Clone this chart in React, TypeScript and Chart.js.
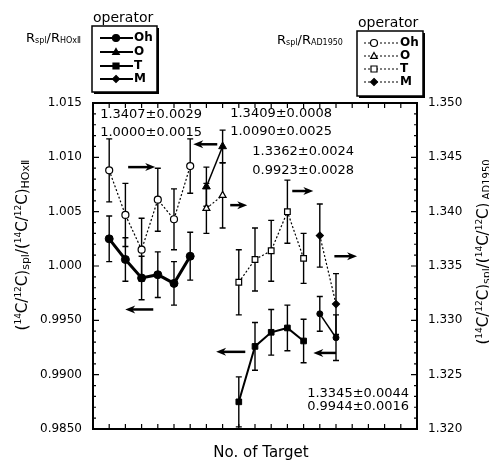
import React, { useEffect, useRef } from "react";
import { Chart, registerables } from "chart.js";
Chart.register(...registerables);

// ---------- data ----------
const ohX = [0, 1, 2, 3, 4, 5];
const oX = [6, 7];
const tX = [8, 9, 10, 11, 12];
const mX = [13, 14];

// R_spl / R_HOxII (left axis, solid lines)
const ohHox = [1.0025, 1.0006, 0.9989, 0.9992, 0.9984, 1.0009];
const ohHoxErr = [0.0021, 0.002, 0.002, 0.0021, 0.002, 0.0022];
const oHox = [1.0073, 1.011];
const oHoxErr = [0.0018, 0.0015];
const tHox = [0.9875, 0.9926, 0.9939, 0.9943, 0.9931];
const tHoxErr = [0.0023, 0.0022, 0.0021, 0.0021, 0.002];
const mHox = [0.9956, 0.9934];
const mHoxErr = [0.0016, 0.0021];

// R_spl / R_AD1950 (right axis, dotted lines)
const ohAd = [1.3438, 1.3397, 1.3365, 1.3411, 1.3393, 1.3442];
const ohAdErr = [0.0029, 0.0029, 0.0029, 0.0029, 0.0028, 0.0025];
const oAd = [1.3403, 1.3415];
const oAdErr = [0.0023, 0.003];
const tAd = [1.3335, 1.3356, 1.3364, 1.34, 1.3357];
const tAdErr = [0.003, 0.0029, 0.0028, 0.0029, 0.0023];
const mAd = [1.3378, 1.3315];
const mAdErr = [0.0029, 0.0028];

const leftTickValues = [1.015, 1.01, 1.005, 1.0, 0.995, 0.99, 0.985];
const leftTickLabels = ["1.015", "1.010", "1.005", "1.000", "0.9950", "0.9900", "0.9850"];
const rightTickValues = [1.35, 1.345, 1.34, 1.335, 1.33, 1.325, 1.32];
const rightTickLabels = ["1.350", "1.345", "1.340", "1.335", "1.330", "1.325", "1.320"];

// annotation texts (x index, left-axis value)
const noteTexts = [
  "1.3407±0.0029", "1.0000±0.0015",
  "1.3409±0.0008", "1.0090±0.0025",
  "1.3362±0.0024", "0.9923±0.0028",
  "1.3345±0.0044", "0.9944±0.0016",
];
const noteX = [-0.56, -0.56, 7.47, 7.47, 8.83, 8.83, 12.22, 12.22];
const noteY = [1.0139, 1.01224, 1.01399, 1.01233, 1.01049, 1.00874, 0.98822, 0.98703];

// arrows: tail x, head x, y (left axis)
const arrowTail = [1.17, 6.67, 7.47, 11.3, 13.9, 2.72, 8.4, 14.0];
const arrowHead = [2.84, 5.19, 8.52, 12.6, 15.3, 0.99, 6.6, 12.6];
const arrowY = [1.0091, 1.0112, 1.0056, 1.0069, 1.0009, 0.996, 0.9921, 0.992];

const operators = ["Oh", "O", "T", "M"];

const FONT = "'DejaVu Sans', sans-serif";

type Seg = { t: string; s: number; dy?: number; b?: boolean };

function richWidth(ctx: CanvasRenderingContext2D, segs: Seg[]) {
  let w = 0;
  for (const g of segs) {
    ctx.font = `${g.b ? "bold " : ""}${g.s}px ${FONT}`;
    w += ctx.measureText(g.t).width;
  }
  return w;
}
function drawRich(ctx: CanvasRenderingContext2D, segs: Seg[], x: number, y: number, align: string) {
  const w = richWidth(ctx, segs);
  let cx = align === "center" ? x - w / 2 : align === "right" ? x - w : x;
  ctx.textAlign = "left";
  ctx.textBaseline = "alphabetic";
  for (const g of segs) {
    ctx.font = `${g.b ? "bold " : ""}${g.s}px ${FONT}`;
    ctx.fillText(g.t, cx, y + (g.dy || 0));
    cx += ctx.measureText(g.t).width;
  }
}

function drawMarker(ctx: CanvasRenderingContext2D, kind: string, x: number, y: number, r: number, filled: boolean) {
  ctx.beginPath();
  if (kind === "circle") ctx.arc(x, y, r, 0, Math.PI * 2);
  else if (kind === "triangle") {
    ctx.moveTo(x, y - r);
    ctx.lineTo(x + r * 0.95, y + r * 0.7);
    ctx.lineTo(x - r * 0.95, y + r * 0.7);
    ctx.closePath();
  } else if (kind === "rect") ctx.rect(x - r, y - r, 2 * r, 2 * r);
  else {
    ctx.moveTo(x, y - r);
    ctx.lineTo(x + r, y);
    ctx.lineTo(x, y + r);
    ctx.lineTo(x - r, y);
    ctx.closePath();
  }
  ctx.fillStyle = filled ? "#000" : "#fff";
  ctx.fill();
  ctx.lineWidth = 1.2;
  ctx.strokeStyle = "#000";
  ctx.stroke();
}

const customPlugin = {
  id: "custom",
  beforeDatasetsDraw(chart: any) {
    const ctx = chart.ctx as CanvasRenderingContext2D;
    const xs = chart.scales.x;
    chart.data.datasets.forEach((ds: any) => {
      const ys = chart.scales[ds.yAxisID];
      ctx.save();
      ctx.strokeStyle = "#000";
      ctx.lineWidth = 1.4;
      ctx.setLineDash([]);
      ds.data.forEach((p: any, j: number) => {
        const e = ds.errors[j];
        const x = xs.getPixelForValue(p.x);
        const y1 = ys.getPixelForValue(p.y + e);
        const y2 = ys.getPixelForValue(p.y - e);
        ctx.beginPath();
        ctx.moveTo(x, y1);
        ctx.lineTo(x, y2);
        ctx.moveTo(x - 3, y1);
        ctx.lineTo(x + 3, y1);
        ctx.moveTo(x - 3, y2);
        ctx.lineTo(x + 3, y2);
        ctx.stroke();
      });
      ctx.restore();
    });
  },
  afterDraw(chart: any) {
    const ctx = chart.ctx as CanvasRenderingContext2D;
    const a = chart.chartArea;
    const xs = chart.scales.x;
    const yl = chart.scales.y;
    const yr = chart.scales.y2;
    ctx.save();
    ctx.fillStyle = "#000";
    ctx.strokeStyle = "#000";
    // frame
    ctx.lineWidth = 2;
    ctx.strokeRect(a.left, a.top, a.right - a.left, a.bottom - a.top);
    // ticks
    ctx.lineWidth = 1.2;
    ctx.beginPath();
    for (let i = 0; i <= 18; i++) {
      const x = xs.getPixelForValue(i);
      ctx.moveTo(x, a.bottom);
      ctx.lineTo(x, a.bottom - 5);
      ctx.moveTo(x, a.top);
      ctx.lineTo(x, a.top + 5);
    }
    for (let k = 1; k < 30; k++) {
      const major = k % 5 === 0;
      const len = major ? 6 : 3;
      const yL = yl.getPixelForValue(0.985 + k * 0.001);
      ctx.moveTo(a.left, yL);
      ctx.lineTo(a.left + len, yL);
      const yR = yr.getPixelForValue(1.32 + k * 0.001);
      ctx.moveTo(a.right, yR);
      ctx.lineTo(a.right - len, yR);
    }
    ctx.stroke();
    // tick labels
    ctx.font = `12px ${FONT}`;
    ctx.textBaseline = "middle";
    ctx.textAlign = "right";
    leftTickValues.forEach((v, i) => ctx.fillText(leftTickLabels[i], a.left - 11, yl.getPixelForValue(v)));
    ctx.textAlign = "left";
    rightTickValues.forEach((v, i) => ctx.fillText(rightTickLabels[i], a.right + 11, yr.getPixelForValue(v)));

    // annotations
    ctx.font = `13px ${FONT}`;
    ctx.textAlign = "left";
    noteTexts.forEach((t, i) => ctx.fillText(t, xs.getPixelForValue(noteX[i]), yl.getPixelForValue(noteY[i])));

    // arrows
    arrowTail.forEach((t, i) => {
      const x0 = xs.getPixelForValue(t);
      const x1 = xs.getPixelForValue(arrowHead[i]);
      const y = yl.getPixelForValue(arrowY[i]);
      const dir = x1 > x0 ? 1 : -1;
      ctx.lineWidth = 2.5;
      ctx.beginPath();
      ctx.moveTo(x0, y);
      ctx.lineTo(x1 - dir * 6, y);
      ctx.stroke();
      ctx.beginPath();
      ctx.moveTo(x1, y);
      ctx.lineTo(x1 - dir * 10, y - 4);
      ctx.lineTo(x1 - dir * 7, y);
      ctx.lineTo(x1 - dir * 10, y + 4);
      ctx.closePath();
      ctx.fill();
    });

    // x title
    ctx.font = `15px ${FONT}`;
    ctx.textAlign = "center";
    ctx.textBaseline = "middle";
    ctx.fillText("No. of Target", 261, 453);

    // y titles
    const lt: Seg[] = [
      { t: "(", s: 15 }, { t: "14", s: 9, dy: -6 }, { t: "C/", s: 15 }, { t: "12", s: 9, dy: -6 },
      { t: "C)", s: 15 }, { t: "spl", s: 11, dy: 2 }, { t: "/(", s: 15 }, { t: "14", s: 9, dy: -6 },
      { t: "C/", s: 15 }, { t: "12", s: 9, dy: -6 }, { t: "C)", s: 15 }, { t: "HOxⅡ", s: 11, dy: 2 },
    ];
    ctx.save();
    ctx.translate(27, 245);
    ctx.rotate(-Math.PI / 2);
    drawRich(ctx, lt, 0, 0, "center");
    ctx.restore();
    const rt: Seg[] = [
      { t: "(", s: 15 }, { t: "14", s: 9, dy: -6 }, { t: "C/", s: 15 }, { t: "12", s: 9, dy: -6 },
      { t: "C)", s: 15 }, { t: "spl", s: 11, dy: 2 }, { t: "/(", s: 15 }, { t: "14", s: 9, dy: -6 },
      { t: "C/", s: 15 }, { t: "12", s: 9, dy: -6 }, { t: "C)", s: 15 }, { t: " AD1950", s: 10, dy: 2 },
    ];
    ctx.save();
    ctx.translate(488, 252);
    ctx.rotate(-Math.PI / 2);
    drawRich(ctx, rt, 0, 0, "center");
    ctx.restore();

    // ratio labels
    drawRich(ctx, [{ t: "R", s: 13 }, { t: "spl", s: 8, dy: 1 }, { t: "/R", s: 13 }, { t: "HOxⅡ", s: 8, dy: 1 }], 26, 42, "left");
    drawRich(ctx, [{ t: "R", s: 13 }, { t: "spl", s: 8, dy: 1 }, { t: "/R", s: 13 }, { t: "AD1950", s: 8, dy: 1 }], 277, 44, "left");

    // legends
    const kinds = ["circle", "triangle", "rect", "diamond"];
    const drawLegend = (bx: number, by: number, bw: number, bh: number, rowY: number[], lx0: number, lx1: number, mx: number, tx: number, dotted: boolean) => {
      ctx.font = `14px ${FONT}`;
      ctx.textAlign = "left";
      ctx.textBaseline = "alphabetic";
      ctx.fillStyle = "#000";
      ctx.fillText("operator", bx + 1, by - 4);
      ctx.fillRect(bx + 2, by + 2, bw, bh);
      ctx.fillStyle = "#fff";
      ctx.fillRect(bx, by, bw, bh);
      ctx.lineWidth = 1.5;
      ctx.strokeStyle = "#000";
      ctx.strokeRect(bx, by, bw, bh);
      operators.forEach((op, i) => {
        const y = rowY[i];
        ctx.lineWidth = dotted ? 1.2 : 2;
        ctx.setLineDash(dotted ? [2, 2] : []);
        ctx.beginPath();
        ctx.moveTo(lx0, y);
        ctx.lineTo(lx1, y);
        ctx.stroke();
        ctx.setLineDash([]);
        const filled = !dotted || i === 3;
        drawMarker(ctx, kinds[i], mx, y, i === 2 ? 3 : 3.5, filled);
        ctx.fillStyle = "#000";
        ctx.font = `bold 12px ${FONT}`;
        ctx.textBaseline = "middle";
        ctx.fillText(op, tx, y);
        ctx.textBaseline = "alphabetic";
      });
    };
    drawLegend(92, 26, 65, 66, [38, 52, 66, 79], 100, 133, 116, 134, false);
    drawLegend(357, 31, 66, 65, [43, 56, 69, 82], 364, 398, 374, 400, true);

    ctx.restore();
  },
};

function pts(xs: number[], ys: number[]) {
  return xs.map((x, i) => ({ x, y: ys[i] }));
}

export default function App() {
  const ref = useRef<HTMLCanvasElement | null>(null);
  useEffect(() => {
    if (!ref.current) return;
    const solid = (xs: number[], ys: number[], errs: number[], style: string, r: number, bw: number) => ({
      data: pts(xs, ys),
      errors: errs,
      yAxisID: "y",
      borderColor: "#000",
      backgroundColor: "#000",
      borderWidth: bw,
      pointStyle: style,
      pointRadius: r,
      pointBackgroundColor: "#000",
      pointBorderColor: "#000",
      pointBorderWidth: 1,
      tension: 0,
    });
    const dotted = (xs: number[], ys: number[], errs: number[], style: string, r: number, fill: boolean) => ({
      data: pts(xs, ys),
      errors: errs,
      yAxisID: "y2",
      borderColor: "#000",
      backgroundColor: "#fff",
      borderWidth: 1.2,
      borderDash: [2, 2],
      pointStyle: style,
      pointRadius: r,
      pointBackgroundColor: fill ? "#000" : "#fff",
      pointBorderColor: "#000",
      pointBorderWidth: 1.2,
      tension: 0,
    });
    const chart = new Chart(ref.current, {
      type: "line",
      data: {
        datasets: [
          dotted(ohX, ohAd, ohAdErr, "circle", 3.5, false),
          dotted(oX, oAd, oAdErr, "triangle", 4, false),
          dotted(tX, tAd, tAdErr, "rect", 4, false),
          dotted(mX, mAd, mAdErr, "rectRot", 3.5, true),
          solid(ohX, ohHox, ohHoxErr, "circle", 4, 3),
          solid(oX, oHox, oHoxErr, "triangle", 4.5, 1.5),
          solid(tX, tHox, tHoxErr, "rect", 4, 2),
          solid(mX, mHox, mHoxErr, "circle", 3, 1.5),
        ] as any,
      },
      options: {
        animation: false,
        responsive: false,
        layout: { padding: { left: 93, top: 103, right: 72, bottom: 37 } },
        plugins: { legend: { display: false }, tooltip: { enabled: false } },
        scales: {
          x: { type: "linear", min: -1, max: 19, display: false },
          y: { type: "linear", min: 0.985, max: 1.015, display: false },
          y2: { type: "linear", min: 1.32, max: 1.35, display: false },
        },
      },
      plugins: [customPlugin],
    });
    return () => chart.destroy();
  }, []);
  return (
    <div style={{ position: "absolute", left: 0, top: 0, width: 489, height: 466, background: "#fff" }}>
      <canvas ref={ref} width={489} height={466} style={{ width: 489, height: 466 }} />
    </div>
  );
}
